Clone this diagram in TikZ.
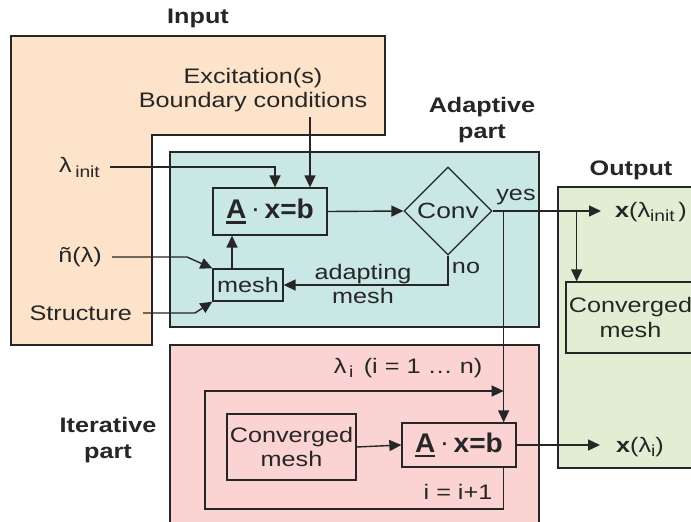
\documentclass[tikz,border=0pt]{standalone}
\usepackage{fontspec}
\setmainfont{Liberation Sans}[FakeStretch=1.2]
\newfontfamily\eqfont{Liberation Sans}[FakeStretch=1.04]
\usetikzlibrary{arrows.meta,shapes.geometric,calc}

\definecolor{inputfill}{HTML}{FDE3C9}
\definecolor{adaptfill}{HTML}{C9E7E4}
\definecolor{iterfill}{HTML}{FAD3D2}
\definecolor{outfill}{HTML}{E2EED4}
\definecolor{ink}{HTML}{262626}

% bold A with a heavy underline
\newcommand\ulbold[1]{{\setbox0\hbox{\bfseries #1}\rlap{\rule[-5pt]{\wd0}{2.6pt}}\box0}}
\newcommand\eqn{{\eqfont\fontsize{27}{30}\selectfont\ulbold{A}\,\raisebox{1pt}{·}\,\bfseries x=b}}
\newcommand\subtx[2][5pt]{\raisebox{-#1}{\fontsize{16}{16}\selectfont #2}}

\tikzset{
  region/.style={draw=ink, line width=1.3pt},
  box/.style={draw=ink, line width=1.3pt, inner sep=0pt, align=center, text=ink},
  conn/.style={draw=ink, line width=1.4pt, -{Triangle[length=12pt,width=11pt]}},
  title/.style={font=\fontsize{21}{26}\selectfont\bfseries, align=center, text=ink, inner sep=0pt},
  txt/.style={font=\fontsize{21}{24.5}\selectfont, align=center, inner sep=0pt, text=ink},
}

\begin{document}
\begin{tikzpicture}[x=1pt,y=-1pt]
\clip (0,0) rectangle (691,522);
\fill[white] (0,0) rectangle (691,522);

% background regions
\filldraw[region, fill=inputfill] (11,36) -- (385,36) -- (385,135) -- (152,135) -- (152,345) -- (11,345) -- cycle;
\filldraw[region, fill=adaptfill] (170,152) rectangle (539,327);
\filldraw[region, fill=iterfill] (170,345) rectangle (539,540);
\filldraw[region, fill=outfill] (558,187) rectangle (720,468);

% region titles
\node[title] (tin) at (198,18) {Input};
\node[title] (tad) at (482,120) {Adaptive\\part};
\node[title] (tout) at (631,170) {Output};
\node[title] (tit) at (108,440) {Iterative\\part};

% inputs
\node[txt, inner ysep=5pt] (excit) at (253,90) {Excitation(s)\\Boundary conditions};
\node[txt, anchor=east] (linit) at (100,167) {λ\,\subtx{init}};
\node[txt, anchor=east] (ntil) at (102,257) {ñ(λ)};
\node[txt, anchor=east] (struct) at (132,313) {Structure};

% adaptive part
\node[box, minimum width=114pt, minimum height=47pt] (ax1) at (270,211.5) {\eqn};
\node[box, minimum width=70pt, minimum height=32pt, font=\fontsize{21}{24}\selectfont] (mesh) at (248,285) {mesh};
\node[box, diamond, minimum width=88pt, minimum height=88pt, font=\fontsize{22}{24}\selectfont] (conv) at (448,211) {Conv};
\node[txt] (adm) at (363,284) {adapting\\mesh};
\node[txt] (no) at (466,268) {no};
\node[txt] (yes) at (516,197) {yes};

% outputs
\node[txt, anchor=west, inner xsep=14pt] (xinit) at (601,212) {\textbf{x}(λ\subtx[4pt]{init}\,)};
\node[box, minimum width=129pt, minimum height=71pt, font=\fontsize{21}{24.5}\selectfont] (cm1) at (630.5,317.5) {Converged\\mesh};
\node[txt, anchor=west, inner xsep=16pt] (xi) at (600,447) {\textbf{x}(λ\subtx[4pt]{i})};

% iterative part
\node[box, minimum width=114pt, minimum height=44pt] (ax2) at (459,445) {\eqn};
\node[box, minimum width=129pt, minimum height=66pt, font=\fontsize{21}{24.5}\selectfont] (cm2) at (291.5,447) {Converged\\mesh};
\node[txt] (lam) at (408,368) {λ\subtx[4pt]{\,i}\enspace(i = 1 … n)};
\node[txt] (inc) at (458,492) {i = i+1};

% connectors of the adaptive part
\draw[conn] ([xshift=10pt]linit.east) -| ([xshift=5pt]ax1.north);
\coordinate (exA) at ([xshift=40pt]ax1.north);
\draw[conn] (excit.south -| exA) -- (exA);
\draw[conn] ([xshift=10pt]ntil.east) -- ++(75,0) -- (mesh.north west);
\draw[conn] ([xshift=11pt]struct.east) -- ++(52,0) -- (mesh.south west);
\draw[conn] ([xshift=-16pt]mesh.north) -- ([xshift=-16pt]mesh.north |- ax1.south);
\draw[conn] (ax1.east) -- (conv.west);
\draw[conn] (conv.south) |- (mesh.east);
\draw[conn] (conv.east) -- (conv.east -| xinit.west);

% converged branch to the output mesh and to the iterative part
\coordinate (ob) at ($(conv.east)+(84,0)$);
\draw[conn] (ob) -- (ob |- cm1.north);
\coordinate (yb) at ($(conv.east)+(11,0)$);
\draw[conn] (yb) -- (yb |- ax2.north);

% iteration loop over the wavelengths
\coordinate (lb) at (205,509);
\coordinate (lt) at (205,391);
\draw[conn] (yb |- ax2.south) -- (yb |- lb) -| (lt) -- (yb |- lt);
\draw[conn] (cm2.east) -- (ax2.west);
\draw[conn] (ax2.east) -- (ax2.east -| xi.west);
\end{tikzpicture}
\end{document}
